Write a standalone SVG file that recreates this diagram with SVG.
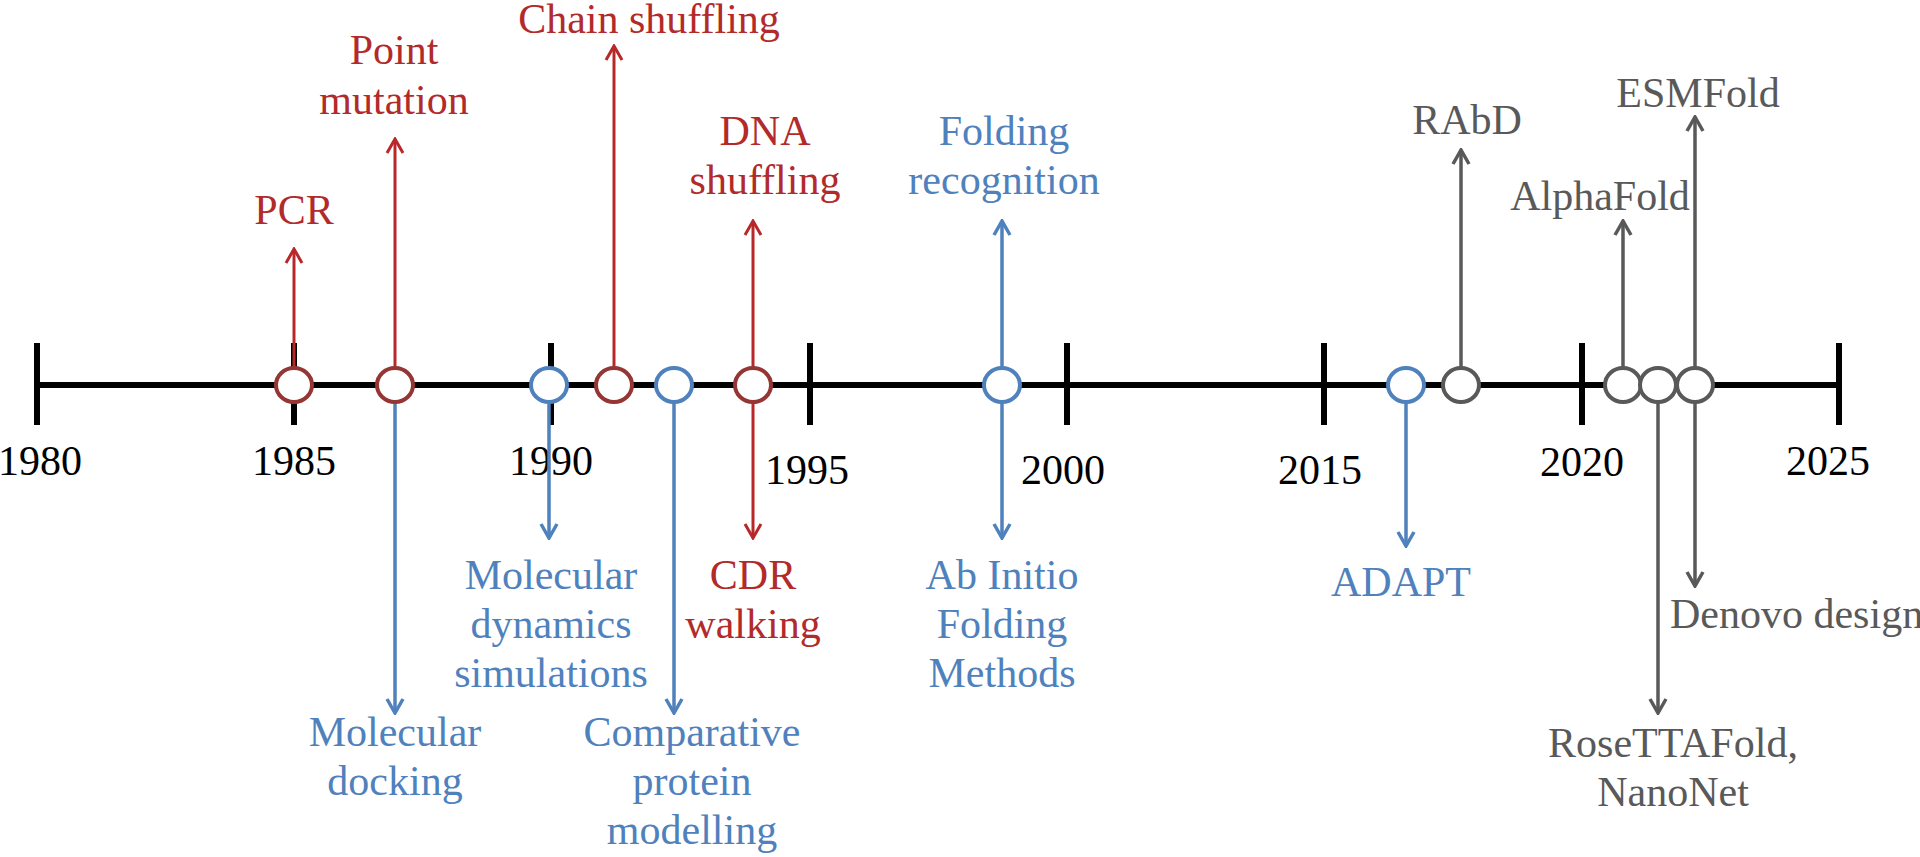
<svg xmlns="http://www.w3.org/2000/svg" width="1920" height="857" viewBox="0 0 1920 857">
<style>
text{font-family:"Liberation Serif","Times New Roman",serif;font-size:42px;text-anchor:middle}
.r{fill:#b22a2a}.b{fill:#4f81bd}.g{fill:#595959}.k{fill:#000}
.ar{stroke:#b8282a;stroke-width:3;fill:none}
.ab{stroke:#4f81bd;stroke-width:3.5;fill:none}
.ag{stroke:#595959;stroke-width:3.5;fill:none}
.cr{stroke:#963634;stroke-width:4;fill:#fff}
.cb{stroke:#4f81bd;stroke-width:4;fill:#fff}
.cg{stroke:#595959;stroke-width:4;fill:#fff}
.axis{stroke:#000;stroke-width:6}
</style>
<defs>
<marker id="mr" viewBox="0 0 20 20" refX="18" refY="10" markerWidth="20" markerHeight="20" markerUnits="userSpaceOnUse" orient="auto-start-reverse"><path d="M4,2 L18,10 L4,18" fill="none" stroke="#b8282a" stroke-width="3"/></marker>
<marker id="mb" viewBox="0 0 20 20" refX="18" refY="10" markerWidth="20" markerHeight="20" markerUnits="userSpaceOnUse" orient="auto-start-reverse"><path d="M4,2 L18,10 L4,18" fill="none" stroke="#4f81bd" stroke-width="3.5"/></marker>
<marker id="mg" viewBox="0 0 20 20" refX="18" refY="10" markerWidth="20" markerHeight="20" markerUnits="userSpaceOnUse" orient="auto-start-reverse"><path d="M4,2 L18,10 L4,18" fill="none" stroke="#595959" stroke-width="3.5"/></marker>
</defs>
<g id="axis">
<line class="axis" x1="37" y1="385" x2="1839" y2="385"/>
<g class="axis">
<line x1="37" y1="343" x2="37" y2="425"/><line x1="294" y1="343" x2="294" y2="425"/>
<line x1="551" y1="343" x2="551" y2="425"/><line x1="810" y1="343" x2="810" y2="425"/>
<line x1="1067" y1="343" x2="1067" y2="425"/><line x1="1324" y1="343" x2="1324" y2="425"/>
<line x1="1582" y1="343" x2="1582" y2="425"/><line x1="1839" y1="343" x2="1839" y2="425"/>
</g>
<text class="k" x="40" y="475">1980</text><text class="k" x="294" y="475">1985</text>
<text class="k" x="551" y="475">1990</text><text class="k" x="807" y="484">1995</text>
<text class="k" x="1063" y="484">2000</text><text class="k" x="1320" y="484">2015</text>
<text class="k" x="1582" y="476">2020</text><text class="k" x="1828" y="475">2025</text>
</g>
<g id="connectors">
<line class="ar" x1="294" y1="369" x2="294" y2="249" marker-end="url(#mr)"/>
<line class="ar" x1="395" y1="369" x2="395" y2="139" marker-end="url(#mr)"/>
<line class="ar" x1="614" y1="369" x2="614" y2="46" marker-end="url(#mr)"/>
<line class="ar" x1="753" y1="538" x2="753" y2="221" marker-start="url(#mr)" marker-end="url(#mr)"/>
<line class="ab" x1="395" y1="401" x2="395" y2="713" marker-end="url(#mb)"/>
<line class="ab" x1="549" y1="401" x2="549" y2="538" marker-end="url(#mb)"/>
<line class="ab" x1="674" y1="401" x2="674" y2="713" marker-end="url(#mb)"/>
<line class="ab" x1="1002" y1="538" x2="1002" y2="221" marker-start="url(#mb)" marker-end="url(#mb)"/>
<line class="ab" x1="1406" y1="401" x2="1406" y2="546" marker-end="url(#mb)"/>
<line class="ag" x1="1461" y1="369" x2="1461" y2="150" marker-end="url(#mg)"/>
<line class="ag" x1="1623" y1="369" x2="1623" y2="221" marker-end="url(#mg)"/>
<line class="ag" x1="1695" y1="586" x2="1695" y2="117" marker-start="url(#mg)" marker-end="url(#mg)"/>
<line class="ag" x1="1658" y1="401" x2="1658" y2="713" marker-end="url(#mg)"/>
</g>
<g id="n-pcr"><ellipse class="cr" cx="294" cy="385" rx="18" ry="17"/><text class="r" x="294" y="224">PCR</text></g>
<g id="n-point"><ellipse class="cr" cx="395" cy="385" rx="18" ry="17"/><text class="r" x="394" y="64">Point</text><text class="r" x="394" y="114">mutation</text>
<text class="b" x="395" y="746">Molecular</text><text class="b" x="395" y="795">docking</text></g>
<g id="n-md"><ellipse class="cb" cx="549" cy="385" rx="18" ry="17"/><text class="b" x="551" y="589">Molecular</text><text class="b" x="551" y="638">dynamics</text><text class="b" x="551" y="687">simulations</text></g>
<g id="n-chain"><ellipse class="cr" cx="614" cy="385" rx="18" ry="17"/><text class="r" x="649" y="33">Chain shuffling</text></g>
<g id="n-comp"><ellipse class="cb" cx="674" cy="385" rx="18" ry="17"/><text class="b" x="692" y="746">Comparative</text><text class="b" x="692" y="795">protein</text><text class="b" x="692" y="844">modelling</text></g>
<g id="n-dna"><ellipse class="cr" cx="753" cy="385" rx="18" ry="17"/><text class="r" x="765" y="145">DNA</text><text class="r" x="765" y="194">shuffling</text>
<text class="r" x="753" y="589">CDR</text><text class="r" x="753" y="638">walking</text></g>
<g id="n-fold"><ellipse class="cb" cx="1002" cy="385" rx="18" ry="17"/><text class="b" x="1004" y="145">Folding</text><text class="b" x="1004" y="194">recognition</text>
<text class="b" x="1002" y="589">Ab Initio</text><text class="b" x="1002" y="638">Folding</text><text class="b" x="1002" y="687">Methods</text></g>
<g id="n-adapt"><ellipse class="cb" cx="1406" cy="385" rx="18" ry="17"/><text class="b" x="1401" y="596">ADAPT</text></g>
<g id="n-rabd"><ellipse class="cg" cx="1461" cy="385" rx="18" ry="17"/><text class="g" x="1467" y="134">RAbD</text></g>
<g id="n-alpha"><ellipse class="cg" cx="1623" cy="385" rx="18" ry="17"/><text class="g" x="1600" y="210">AlphaFold</text></g>
<g id="n-rose"><ellipse class="cg" cx="1658" cy="385" rx="18" ry="17"/><text class="g" x="1673" y="757">RoseTTAFold,</text><text class="g" x="1673" y="806">NanoNet</text></g>
<g id="n-esm"><ellipse class="cg" cx="1695" cy="385" rx="18" ry="17"/><text class="g" x="1698" y="107">ESMFold</text><text class="g" x="1670" y="628" style="text-anchor:start">Denovo design</text></g>
</svg>
